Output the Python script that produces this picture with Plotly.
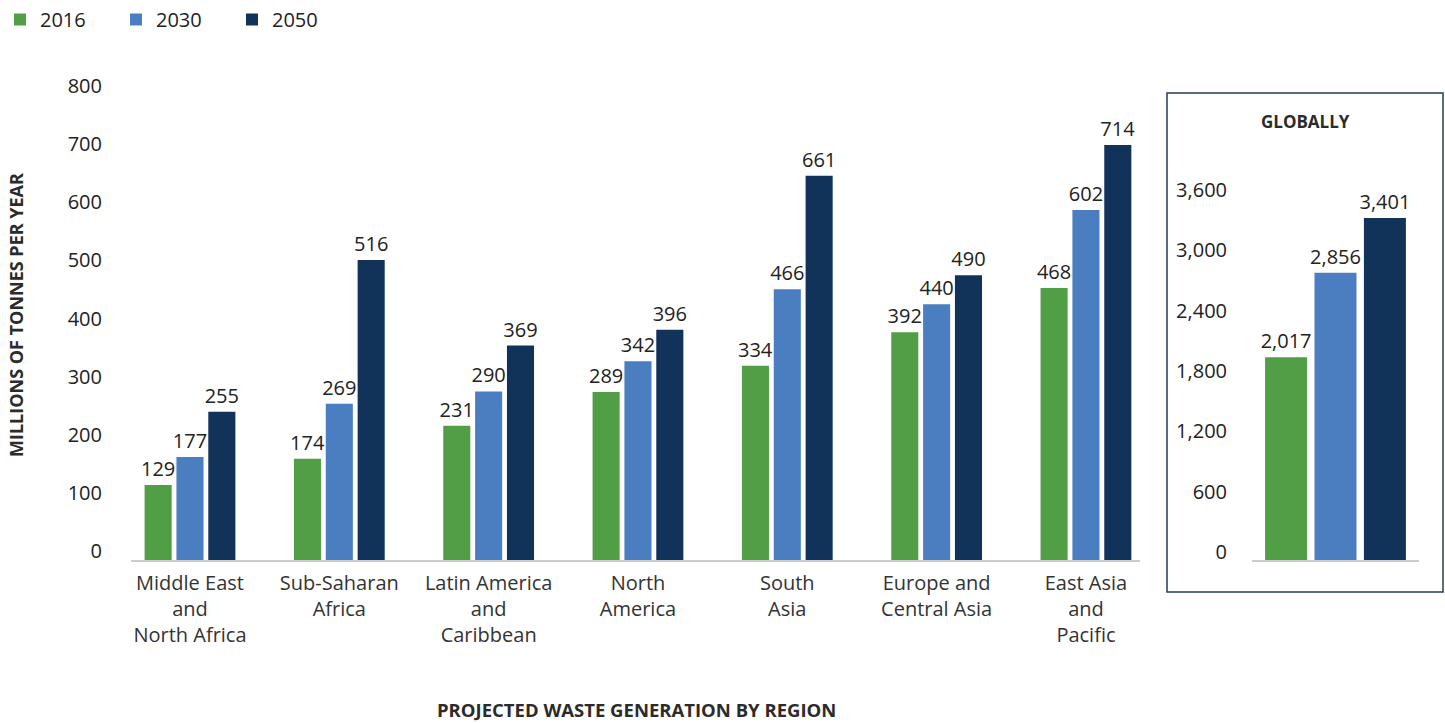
import plotly.graph_objects as go

W, H = 1445, 723

regions = ["Middle East<br>and<br>North Africa", "Sub-Saharan<br>Africa",
           "Latin America<br>and<br>Caribbean", "North<br>America", "South<br>Asia",
           "Europe and<br>Central Asia", "East Asia<br>and<br>Pacific"]
years = ["2016", "2030", "2050"]
v2016 = [129, 174, 231, 289, 334, 392, 468]
v2030 = [177, 269, 290, 342, 466, 440, 602]
v2050 = [255, 516, 369, 396, 661, 490, 714]
global_vals = [2017, 2856, 3401]
main_ticks = [0, 100, 200, 300, 400, 500, 600, 700, 800]
global_ticks = [0, 600, 1200, 1800, 2400, 3000, 3600]

colors = ["#529e47", "#4a7ec0", "#11335a"]
FONT = "Open Sans"
TXT = "#222222"


def px_x(p):
    return p / W


def px_y(p):
    return (H - p) / H


fig = go.Figure()
for name, vals, col in zip(years, [v2016, v2030, v2050], colors):
    fig.add_trace(go.Bar(
        x=regions, y=vals, name=name, marker_color=col, marker_line_width=0,
        texttemplate="%{y}", textposition="outside", cliponaxis=False,
        constraintext="none",
        textfont=dict(family=FONT, size=20, color=TXT),
        xaxis="x", yaxis="y", legendgroup=name, offsetgroup=name,
    ))
for name, val, col in zip(years, global_vals, colors):
    fig.add_trace(go.Bar(
        x=["Global"], y=[val], name=name, marker_color=col, marker_line_width=0,
        texttemplate="%{y:,}", textposition="outside", cliponaxis=False,
        constraintext="none",
        textfont=dict(family=FONT, size=20, color=TXT),
        xaxis="x2", yaxis="y2", legendgroup=name, offsetgroup=name, showlegend=False,
    ))

base = px_y(560)
fig.update_layout(
    width=W, height=H,
    margin=dict(l=0, r=0, t=0, b=0, autoexpand=False),
    paper_bgcolor="white", plot_bgcolor="white",
    font=dict(family=FONT, size=20, color=TXT),
    barmode="group", bargap=0.36, bargroupgap=0.15,
    showlegend=True,
    legend=dict(orientation="h", x=0, y=1, xanchor="left", yanchor="top",
                font=dict(family=FONT, size=20, color=TXT),
                entrywidth=71, entrywidthmode="pixels", traceorder="normal"),
    xaxis=dict(domain=[px_x(131), px_x(1140)], range=[-0.395, 6.362],
               showline=True, linecolor="#cccccc", linewidth=1.5,
               ticks="", showgrid=False, zeroline=False, ticklabelstandoff=4,
               tickfont=dict(family=FONT, size=20, color="#333333"),
               anchor="y"),
    yaxis=dict(domain=[base, px_y(95)], range=[0, 800], tickvals=main_ticks,
               showline=False, ticks="", showgrid=False, zeroline=False,
               ticklabelshift=-9, ticklabelstandoff=28,
               tickfont=dict(family=FONT, size=20, color=TXT),
               anchor="x"),
    xaxis2=dict(domain=[px_x(1252), px_x(1419)], range=[-0.3605, 0.3605],
                showline=True, linecolor="#cccccc", linewidth=1.5,
                ticks="", showgrid=False, zeroline=False, showticklabels=False,
                anchor="y2"),
    yaxis2=dict(domain=[base, px_y(198)], range=[0, 3600], tickvals=global_ticks,
                tickformat=",", showline=False, ticks="", showgrid=False, zeroline=False,
                ticklabelshift=-8, ticklabelstandoff=24,
                tickfont=dict(family=FONT, size=20, color=TXT),
                anchor="x2"),
)

fig.add_shape(type="rect", xref="paper", yref="paper",
              x0=px_x(1167), x1=px_x(1443), y0=px_y(592), y1=px_y(93),
              line=dict(color="#1f3d5c", width=1.5), fillcolor="rgba(0,0,0,0)")

fig.add_annotation(text="<b>GLOBALLY</b>", xref="paper", yref="paper",
                   x=px_x(1305), y=px_y(122), xanchor="center", yanchor="middle",
                   showarrow=False, font=dict(family=FONT, size=17, color="#2b2b2b"))
fig.add_annotation(text="<b>MILLIONS OF TONNES PER YEAR</b>", xref="paper", yref="paper",
                   x=px_x(16), y=px_y(315), xanchor="center", yanchor="middle",
                   showarrow=False, textangle=-90,
                   font=dict(family=FONT, size=18, color="#2b2b2b"))
fig.add_annotation(text="<b>PROJECTED WASTE GENERATION BY REGION</b>", xref="paper", yref="paper",
                   x=px_x(636), y=px_y(709), xanchor="center", yanchor="middle",
                   showarrow=False, font=dict(family=FONT, size=18.5, color="#2b2b2b"))

fig.write_html("out.html")
